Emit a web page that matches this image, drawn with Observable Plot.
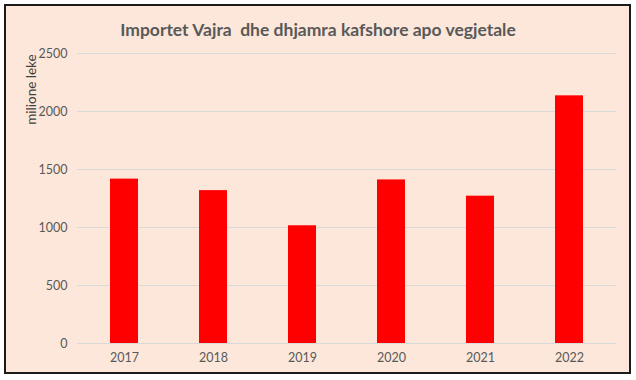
<!DOCTYPE html>
<html>
<head>
<meta charset="utf-8">
<script src="https://cdn.jsdelivr.net/npm/d3@7"></script>
<script src="https://cdn.jsdelivr.net/npm/@observablehq/plot@0.6"></script>
<style>
  html, body { margin: 0; padding: 0; background: #ffffff; }
  #wrap { position: relative; width: 636px; height: 380px; overflow: hidden; }
  #frame { position: absolute; left: 4px; top: 4px; width: 623px; height: 366px; background: #FCE7DA; border: 2px solid #1a1a1a; }
  #title { position: absolute; left: 0; top: 19px; width: 636px; text-align: center; font-family: Lato, "Open Sans", sans-serif; font-weight: bold; font-size: 17.5px; color: #595959; white-space: pre; }
  #chart { position: absolute; left: 0; top: 0; }
</style>
</head>
<body>
<div id="wrap">
  <div id="frame"></div>
  <div id="title">Importet Vajra  dhe dhjamra kafshore apo vegjetale</div>
  <div id="chart"></div>
</div>
<script>
const years = ["2017", "2018", "2019", "2020", "2021", "2022"];
const values = [1417, 1318, 1015, 1410, 1270, 2135];
const yTicks = [0, 500, 1000, 1500, 2000, 2500];
const yLabel = "milione leke";

const data = years.map((y, i) => ({year: y, value: values[i]}));

const chart = Plot.plot({
  width: 636,
  height: 380,
  marginLeft: 77,
  marginRight: 20,
  marginTop: 53,
  marginBottom: 37,
  style: {background: "transparent", fontFamily: "Lato, 'Open Sans', sans-serif", fontSize: "12.5px", color: "#595959"},
  x: {domain: years, paddingInner: 0.69, paddingOuter: 0.345, label: null},
  y: {domain: [0, 2500], label: null},
  marks: [
    Plot.ruleY(yTicks, {stroke: "#d9d9d9", strokeWidth: 1.2}),
    Plot.barY(data, {x: "year", y: "value", fill: "#FF0000"}),
    Plot.axisY({ticks: yTicks, tickFormat: d => String(d), tickSize: 0, tickPadding: 10, label: null, fill: "#595959"}),
    Plot.axisX({tickSize: 0, tickPadding: 10, label: null, fill: "#595959"}),
    Plot.text([yLabel], {frameAnchor: "top-left", dx: -51, dy: 36, rotate: -90, text: d => d, fill: "#404040", fontSize: 13.5, textAnchor: "middle"})
  ]
});
document.getElementById("chart").appendChild(chart);
</script>
</body>
</html>
